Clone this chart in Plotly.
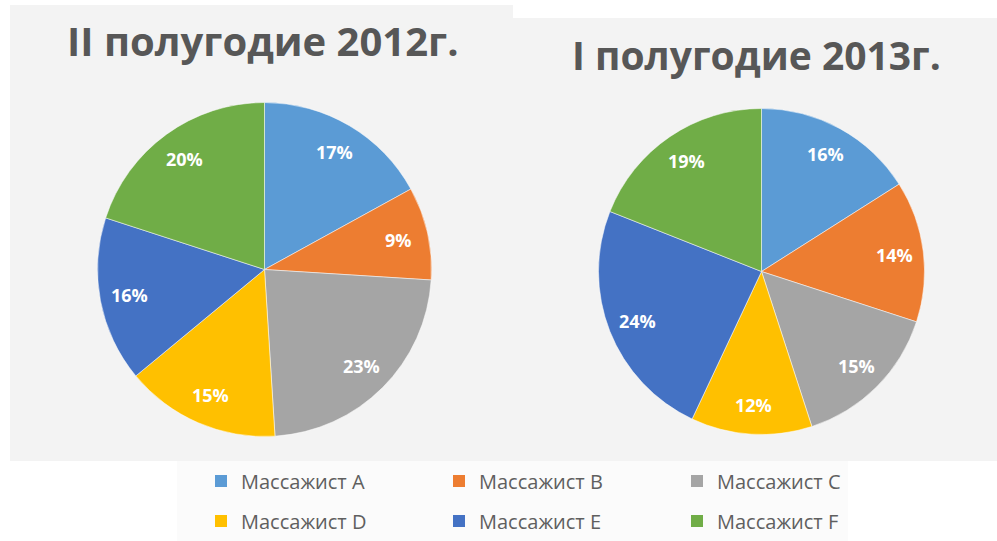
import math
import plotly.graph_objects as go

W, H = 997, 541

# ---- data ----
labels = ["Массажист A", "Массажист B", "Массажист C", "Массажист D", "Массажист E", "Массажист F"]
values_2012_h2 = [17, 9, 23, 15, 16, 20]
values_2013_h1 = [16, 14, 15, 12, 24, 19]
titles = ["II полугодие 2012г.", "I полугодие 2013г."]
colors = ["#5B9BD5", "#ED7D31", "#A5A5A5", "#FFC000", "#4472C4", "#70AD47"]


def px_x(x):
    return x / W


def px_y(y):
    return (H - y) / H


fig = go.Figure()

pie_common = dict(
    labels=labels,
    sort=False,
    direction="clockwise",
    rotation=0,
    marker=dict(colors=colors, line=dict(color="rgba(255,255,255,0.5)", width=1)),
    textinfo="none",
    showlegend=False,
    hoverinfo="label+percent",
)

# pie geometry (pixels): centre and radius
pies = [
    (values_2012_h2, 264.5, 269.5, 167),
    (values_2013_h1, 761.5, 271.5, 163),
]

annotations = []
for vals, cx, cy, r in pies:
    fig.add_trace(go.Pie(values=vals,
                         domain=dict(x=[px_x(cx - r), px_x(cx + r)],
                                     y=[px_y(cy + r), px_y(cy - r)]),
                         **pie_common))
    # percentage labels placed near the outer edge (as in the original)
    total = float(sum(vals))
    cum = 0.0
    for v in vals:
        mid = (cum + v / 2.0) / total * 2 * math.pi
        cum += v
        lx = cx + 0.82 * r * math.sin(mid)
        ly = cy - 0.82 * r * math.cos(mid)
        annotations.append(dict(
            text=f"{round(v / total * 100):.0f}%", x=px_x(lx), y=px_y(ly),
            xref="paper", yref="paper", showarrow=False,
            xanchor="center", yanchor="middle",
            font=dict(family="Open Sans", size=18, color="white", weight="bold"),
        ))

# legend entries (two rows, like the original)
for i, (lab, col) in enumerate(zip(labels, colors)):
    fig.add_trace(go.Scatter(x=[None], y=[None], mode="markers", name=lab,
                             marker=dict(symbol="square", size=12, color=col),
                             legend="legend" if i < 3 else "legend2",
                             hoverinfo="skip"))

shapes = [
    dict(type="rect", xref="paper", yref="paper", layer="below",
         x0=px_x(10), x1=px_x(513), y0=px_y(461), y1=px_y(5),
         fillcolor="#f3f3f3", line=dict(width=0)),
    dict(type="rect", xref="paper", yref="paper", layer="below",
         x0=px_x(513), x1=px_x(997), y0=px_y(461), y1=px_y(18),
         fillcolor="#f3f3f3", line=dict(width=0)),
    dict(type="rect", xref="paper", yref="paper", layer="below",
         x0=px_x(177), x1=px_x(848), y0=px_y(541), y1=px_y(461),
         fillcolor="#fbfbfb", line=dict(width=0)),
]

annotations += [
    dict(text=titles[0], x=px_x(263), y=px_y(41), xref="paper", yref="paper",
         showarrow=False, xanchor="center", yanchor="middle",
         font=dict(family="Open Sans", size=40, color="#575757", weight="bold")),
    dict(text=titles[1], x=px_x(756), y=px_y(54), xref="paper", yref="paper",
         showarrow=False, xanchor="center", yanchor="middle",
         font=dict(family="Open Sans", size=39, color="#575757", weight="bold")),
]

legend_common = dict(
    orientation="h", xanchor="left", yanchor="middle",
    entrywidth=193, entrywidthmode="pixels",
    font=dict(family="Open Sans", size=20, color="#5f5f5f"),
    bgcolor="rgba(0,0,0,0)", borderwidth=0,
    itemclick=False, itemdoubleclick=False,
)

fig.update_layout(
    width=W, height=H,
    margin=dict(l=0, r=0, t=0, b=0),
    paper_bgcolor="white",
    plot_bgcolor="rgba(0,0,0,0)",
    xaxis=dict(visible=False, range=[0, 1]),
    yaxis=dict(visible=False, range=[0, 1]),
    shapes=shapes,
    annotations=annotations,
    legend=dict(x=px_x(201), y=px_y(481), **legend_common),
    legend2=dict(x=px_x(201), y=px_y(521), **legend_common),
)

fig.write_html("out.html", config={"displayModeBar": False},
               post_script="document.body.style.margin='0';")
